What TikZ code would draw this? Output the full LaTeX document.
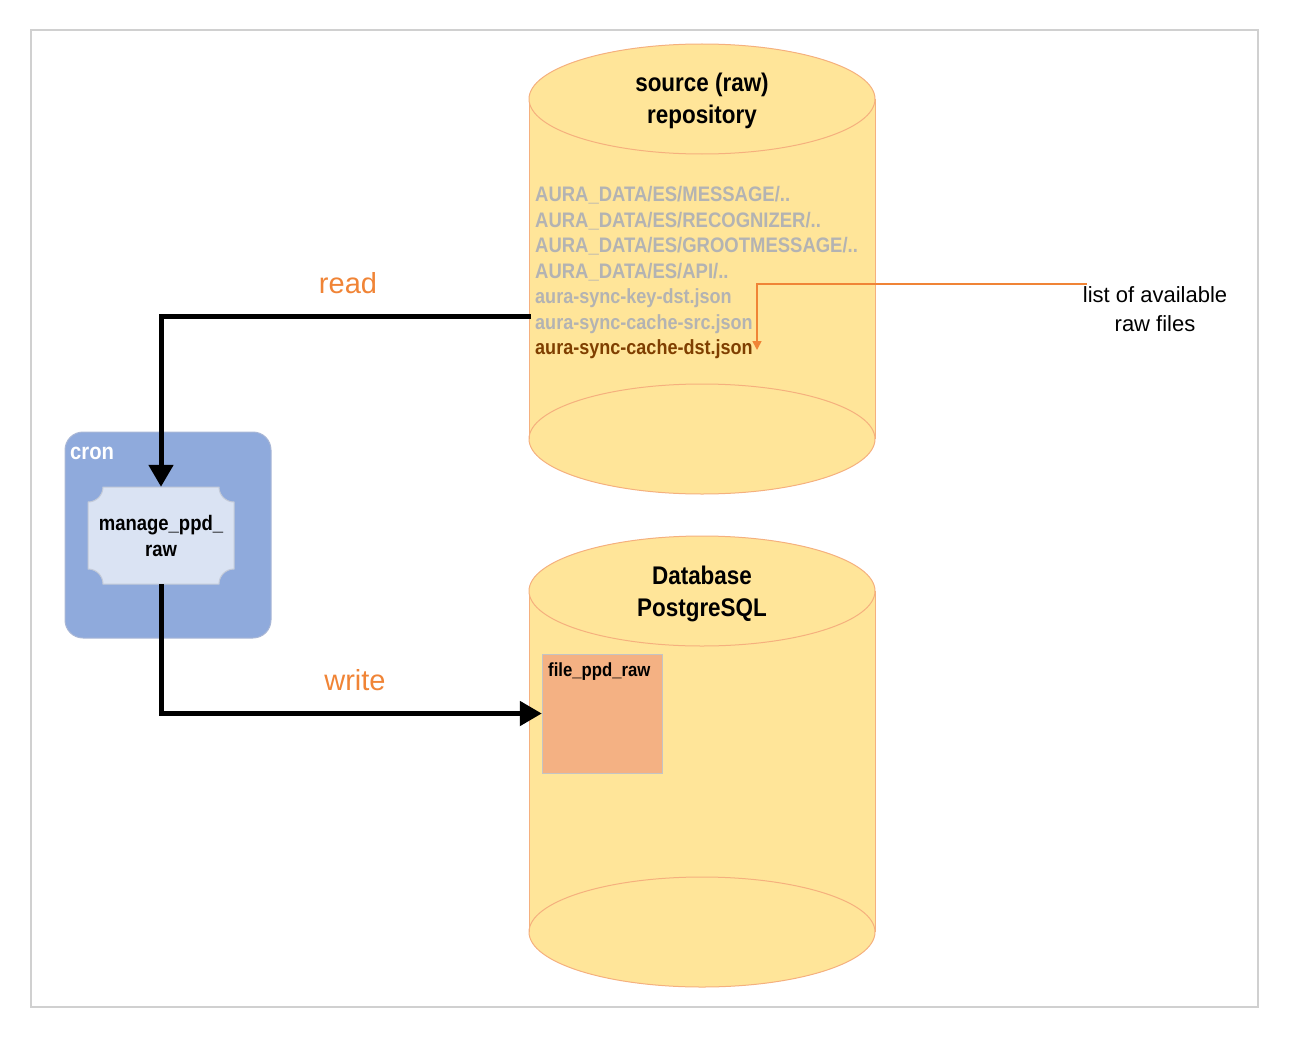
\documentclass[tikz,border=0pt]{standalone}
\usepackage{fontspec}
\setmainfont{Liberation Sans}
\newfontfamily\narrowfont[FakeStretch=0.88]{Liberation Sans}
\usepackage{tikz}
\usetikzlibrary{arrows.meta, positioning, calc}
\definecolor{framegray}{HTML}{D0D0D0}
\definecolor{dbfill}{HTML}{FFE599}
\definecolor{dbline}{HTML}{F5B07E}
\definecolor{cronfill}{HTML}{8FAADC}
\definecolor{cronline}{HTML}{A9B7D6}
\definecolor{jobfill}{HTML}{DAE3F3}
\definecolor{jobline}{HTML}{C3CAD8}
\definecolor{tablefill}{HTML}{F4B183}
\definecolor{tableline}{HTML}{C4C4C4}
\definecolor{pathgray}{HTML}{B3B3B3}
\definecolor{hitbrown}{HTML}{7F3F00}
\definecolor{noteorange}{HTML}{F08436}
\tikzset{
  dbtitle/.style={
    align=center, inner sep=0pt,
    font=\narrowfont\bfseries\fontsize{25.5}{32}\selectfont,
  },
  filepath/.style={
    anchor=base west, inner sep=0pt, text=pathgray,
    font=\narrowfont\bfseries\fontsize{21}{25}\selectfont,
  },
  filename/.style={
    filepath, font=\narrowfont\bfseries\fontsize{20.5}{25}\selectfont,
  },
  jobtext/.style={
    align=center, inner sep=0pt,
    font=\narrowfont\bfseries\fontsize{21}{26}\selectfont,
  },
  action/.style={font=\fontsize{29}{32}\selectfont, text=noteorange},
  flow/.style={-{Triangle[length=22pt,width=24pt]}, line width=5pt},
  pointer/.style={-{Triangle[length=9pt,width=9pt]}, line width=1.5pt, draw=noteorange},
}

\begin{document}
\begin{tikzpicture}[x=1pt, y=-1pt]
  \useasboundingbox (0,0) rectangle (1289,1038);
  \draw[framegray, line width=1.2pt] (31,30) rectangle (1258,1007);

  % source repository
  \fill[dbfill] (529,99) rectangle (875,439);
  \fill[dbfill] (702,439) ellipse[x radius=173pt, y radius=55pt];
  \draw[dbline, line width=1pt] (529,99) -- (529,439) (875,99) -- (875,439);
  \draw[dbline, line width=1pt, fill=dbfill] (702,99) ellipse[x radius=173pt, y radius=55pt];
  \draw[dbline, line width=1pt] (702,439) ellipse[x radius=173pt, y radius=55pt];
  \node[dbtitle] (src) at (702,100.5) {source (raw)\\repository};

  % database
  \fill[dbfill] (529,591) rectangle (875,932);
  \fill[dbfill] (702,932) ellipse[x radius=173pt, y radius=55pt];
  \draw[dbline, line width=1pt] (529,591) -- (529,932) (875,591) -- (875,932);
  \draw[dbline, line width=1pt, fill=dbfill] (702,591) ellipse[x radius=173pt, y radius=55pt];
  \draw[dbline, line width=1pt] (702,932) ellipse[x radius=173pt, y radius=55pt];
  \node[dbtitle] (db) at (702,594) {Database\\PostgreSQL};

  \node[filepath] (p1) at (535,201.5) {AURA\_DATA/ES/MESSAGE/..};
  \node[filepath] (p2) at (535,227) {AURA\_DATA/ES/RECOGNIZER/..};
  \node[filepath] (p3) at (535,252.5) {AURA\_DATA/ES/GROOTMESSAGE/..};
  \node[filepath] (p4) at (535,278) {AURA\_DATA/ES/API/..};
  \node[filename] (p5) at (535,303.5) {aura-sync-key-dst.json};
  \node[filename] (p6) at (535,329) {aura-sync-cache-src.json};
  \node[filename, text=hitbrown] (p7) at (535,354.5) {aura-sync-cache-dst.json};

  \draw[tableline, line width=1pt, fill=tablefill] (542,654) rectangle (662,773);
  \node[inner sep=0pt, minimum width=120pt, minimum height=119pt] (tbl) at (602,713.5) {};
  \node[anchor=base west, inner sep=0pt, font=\narrowfont\bfseries\fontsize{19}{22}\selectfont]
    (tblname) at (548,676) {file\_ppd\_raw};

  % cron
  \draw[cronline, line width=1pt, fill=cronfill, rounded corners=18pt] (65,432) rectangle (271,638);
  \node[anchor=base west, inner sep=0pt, text=white, font=\narrowfont\bfseries\fontsize{23}{26}\selectfont]
    (cron) at (70,459) {cron};
  \draw[jobline, line width=1pt, fill=jobfill]
    (103,487) -- (219,487) arc[start angle=180, end angle=270, radius=15pt]
    -- (234,569) arc[start angle=90, end angle=180, radius=15pt]
    -- (103,584) arc[start angle=0, end angle=90, radius=15pt]
    -- (88,502) arc[start angle=270, end angle=360, radius=15pt] -- cycle;
  \node[jobtext, minimum width=146pt, minimum height=97pt] (job) at (161,535.5) {manage\_ppd\_\\raw};

  % note
  \node[align=center, inner sep=0pt, font=\fontsize{22}{29}\selectfont] (note) at (1155,309) {list of available\\raw files};
  \coordinate (notestart) at (1087,284);
  \coordinate (hit) at (757,350);
  \draw[pointer] (notestart) -| (hit);

  \coordinate (srcside) at (531,316);
  \draw[flow] (srcside) -| (job.north);
  \node[action] (read) at (348,283) {read};
  \draw[flow] (job.south) |- (tbl.west);
  \node[action] (write) at (355,680) {write};
\end{tikzpicture}
\end{document}
